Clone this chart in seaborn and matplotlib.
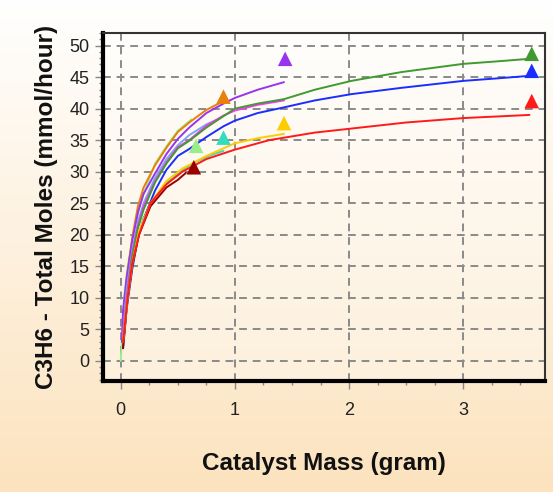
import numpy as np
import pandas as pd
import matplotlib
matplotlib.use("Agg")
import matplotlib.pyplot as plt
from matplotlib.ticker import MultipleLocator
import seaborn as sns

# ---------------- data ----------------
lightgreen_x = [0.0, 0.015, 0.03, 0.06, 0.11, 0.17, 0.3, 0.4, 0.5, 0.62]
lightgreen_y = [0.0, 5.0, 10.0, 15.0, 20.0, 25.0, 31.3, 34.0, 36.5, 38.3]

orange_x = [0.01, 0.03, 0.06, 0.1, 0.15, 0.2, 0.3, 0.4, 0.5, 0.6, 0.75, 0.88]
orange_y = [3.0, 8.0, 14.0, 19.5, 24.5, 27.5, 31.0, 33.8, 36.3, 37.8, 39.8, 41.0]

purple_x = [0.01, 0.02, 0.05, 0.1, 0.15, 0.2, 0.3, 0.4, 0.5, 0.6, 0.75, 0.9, 1.0, 1.2, 1.43]
purple_y = [3.0, 8.0, 13.0, 19.0, 23.5, 26.5, 29.7, 32.8, 35.2, 37.0, 39.3, 40.8, 41.7, 43.0, 44.2]

lightblue_x = [0.02, 0.05, 0.1, 0.15, 0.2, 0.3, 0.4, 0.5, 0.6, 0.75, 0.85]
lightblue_y = [4.0, 11.0, 17.5, 22.0, 25.0, 29.0, 32.0, 34.2, 35.8, 37.5, 38.3]

magenta_x = [0.02, 0.05, 0.1, 0.15, 0.2, 0.3, 0.4, 0.5, 0.6, 0.75, 0.9, 1.0, 1.2, 1.43]
magenta_y = [4.0, 10.0, 17.0, 21.5, 24.5, 28.5, 31.5, 33.9, 35.0, 37.3, 38.9, 39.7, 40.6, 41.3]

green_x = [0.02, 0.05, 0.1, 0.15, 0.2, 0.3, 0.4, 0.5, 0.6, 0.75, 0.9, 1.0, 1.2, 1.43,
           1.7, 2.02, 2.46, 3.0, 3.3, 3.58]
green_y = [3.0, 9.0, 16.5, 21.0, 24.0, 28.3, 31.3, 33.7, 34.9, 37.0, 38.8, 40.0, 40.8, 41.5,
           43.0, 44.4, 45.8, 47.1, 47.5, 47.9]

blue_x = [0.02, 0.05, 0.1, 0.15, 0.2, 0.3, 0.4, 0.5, 0.6, 0.75, 0.9, 1.0, 1.2, 1.43,
          1.7, 2.02, 2.46, 3.0, 3.3, 3.58]
blue_y = [2.0, 8.0, 14.5, 19.5, 22.5, 27.0, 30.3, 32.5, 33.6, 35.5, 37.2, 38.1, 39.3, 40.2,
          41.3, 42.3, 43.3, 44.4, 44.8, 45.2]

teal_x = [0.02, 0.05, 0.1, 0.15, 0.2, 0.3, 0.4, 0.5, 0.65, 0.8, 0.9]
teal_y = [3.0, 9.0, 15.0, 19.5, 22.5, 26.0, 28.3, 29.8, 31.5, 32.7, 33.3]

darkred_x = [0.02, 0.06, 0.1, 0.16, 0.26, 0.4, 0.5, 0.57]
darkred_y = [2.0, 10.0, 15.0, 20.0, 24.5, 27.5, 28.7, 29.8]

gold_x = [0.02, 0.06, 0.1, 0.16, 0.26, 0.4, 0.54, 0.75, 1.0, 1.2, 1.43]
gold_y = [3.0, 10.0, 15.5, 20.5, 25.0, 28.5, 30.5, 32.5, 34.5, 35.3, 36.0]

red_x = [0.02, 0.06, 0.1, 0.16, 0.26, 0.4, 0.54, 0.75, 1.0, 1.3, 1.7, 2.1, 2.5, 3.0, 3.58]
red_y = [3.0, 10.0, 15.5, 20.0, 25.0, 28.0, 30.0, 32.0, 33.5, 35.0, 36.2, 37.0, 37.8, 38.5, 39.0]

# measured points (triangles)
marker_series = ["darkred", "lightgreen", "teal", "orange", "gold", "purple", "green", "blue", "red"]
marker_x = [0.64, 0.66, 0.9, 0.9, 1.43, 1.44, 3.6, 3.6, 3.6]
marker_y = [30.7, 34.1, 35.4, 41.9, 37.7, 47.9, 48.7, 46.0, 41.2]

colors = {
    "lightgreen": "#99EE88",
    "orange": "#E8800A",
    "purple": "#9933EE",
    "lightblue": "#77AAEE",
    "magenta": "#FF33FF",
    "green": "#3F9A30",
    "blue": "#1A2EFF",
    "teal": "#33DDBB",
    "darkred": "#990000",
    "gold": "#FFCC00",
    "red": "#FF1A1A",
}

curves = {
    "lightgreen": (lightgreen_x, lightgreen_y),
    "orange": (orange_x, orange_y),
    "purple": (purple_x, purple_y),
    "lightblue": (lightblue_x, lightblue_y),
    "magenta": (magenta_x, magenta_y),
    "green": (green_x, green_y),
    "blue": (blue_x, blue_y),
    "teal": (teal_x, teal_y),
    "darkred": (darkred_x, darkred_y),
    "gold": (gold_x, gold_y),
    "red": (red_x, red_y),
}

rows = []
for name, (xs, ys) in curves.items():
    for xv, yv in zip(xs, ys):
        rows.append({"series": name, "mass": xv, "moles": yv})
df = pd.DataFrame(rows)
mdf = pd.DataFrame({"series": marker_series, "mass": marker_x, "moles": marker_y})

# ---------------- figure ----------------
sns.set_style("white")
plt.rcParams["font.family"] = ["Liberation Sans", "DejaVu Sans"]

fig = plt.figure(figsize=(5.53, 4.92), dpi=100)

# figure background gradient
bg = fig.add_axes([0, 0, 1, 1], zorder=-10)
grad = np.linspace(0, 1, 256)[:, None]
top_c = np.array([1.0, 1.0, 1.0])
bot_c = np.array([0xFC, 0xE3, 0xBE]) / 255.0
img = top_c[None, None, :] * (1 - grad[:, :, None]) + bot_c[None, None, :] * grad[:, :, None]
bg.imshow(img, aspect="auto", extent=[0, 1, 0, 1], origin="upper")
bg.set_axis_off()

ax = fig.add_axes([0.187, 0.2256, 0.9855 - 0.187, 0.933 - 0.2256])
ax.set_facecolor("none")
# axes background gradient
a_top = np.array([0xFF, 0xFE, 0xFC]) / 255.0
a_bot = np.array([0xFD, 0xF0, 0xDC]) / 255.0
aimg = a_top[None, None, :] * (1 - grad[:, :, None]) + a_bot[None, None, :] * grad[:, :, None]
ax.imshow(aimg, aspect="auto", extent=[0, 1, 0, 1], origin="upper",
          transform=ax.transAxes, zorder=-5)

sns.lineplot(data=df, x="mass", y="moles", hue="series", palette=colors,
             estimator=None, sort=False, linewidth=1.4, legend=False, ax=ax, zorder=3)
sns.scatterplot(data=mdf, x="mass", y="moles", hue="series", palette=colors,
                marker="^", s=110, linewidth=0, legend=False, ax=ax, zorder=4)

ax.set_xlim(-0.152, 3.716)
ax.set_ylim(-3.2, 52.0)
ax.xaxis.set_major_locator(MultipleLocator(1))
ax.xaxis.set_minor_locator(MultipleLocator(0.25))
ax.yaxis.set_major_locator(MultipleLocator(5))
ax.yaxis.set_minor_locator(MultipleLocator(1))

ax.grid(True, which="major", color="#8a8a8a", linestyle=(0, (4, 3)), linewidth=1.4, zorder=1)
ax.set_axisbelow(True)

ax.tick_params(axis="both", which="major", direction="out", length=6, width=1,
               color="#888888", labelsize=13, labelcolor="#222222")
ax.tick_params(axis="x", which="major", pad=9)
ax.tick_params(axis="y", which="major", pad=4)
ax.tick_params(axis="both", which="minor", direction="out", length=3, width=1,
               color="#888888")
ax.tick_params(axis="x", which="both", bottom=True)
ax.tick_params(axis="y", which="both", left=True)

for side in ["left", "bottom"]:
    ax.spines[side].set_color("black")
    ax.spines[side].set_linewidth(3)
for side in ["top", "right"]:
    ax.spines[side].set_color("#333333")
    ax.spines[side].set_linewidth(1.5)

ax.set_xlabel("Catalyst Mass (gram)", fontsize=17.5, fontweight="bold", color="#111111", labelpad=24)
ax.set_ylabel("C3H6 - Total Moles (mmol/hour)", fontsize=17.5, fontweight="bold", color="#111111", labelpad=8)

fig.savefig("out.png", dpi=100)
